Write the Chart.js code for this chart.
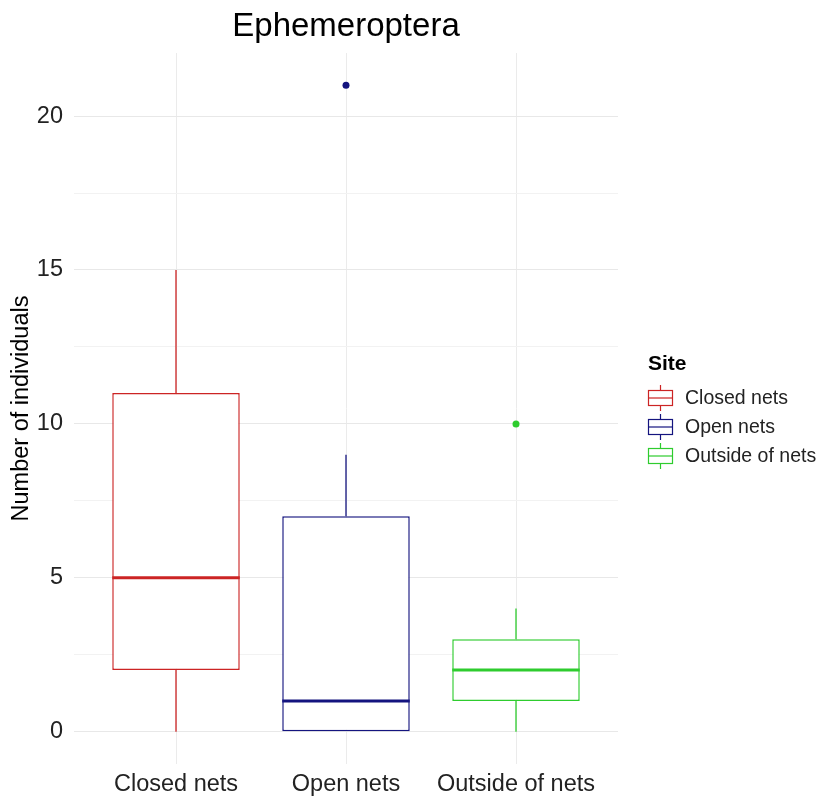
<!DOCTYPE html>
<html>
<head>
<meta charset="utf-8">
<script src="https://cdn.jsdelivr.net/npm/chart.js@4"></script>
<style>
  body { margin: 0; background: #fff; }
  #wrap { width: 819px; height: 800px; }
</style>
</head>
<body>
<div id="wrap"><canvas id="myChart" width="819" height="800"></canvas></div>
<script>
// data
const categories = ['Closed nets', 'Open nets', 'Outside of nets']
const lowWhisker = [0, 0, 0]
const q1 = [2, 0, 1]
const median = [5, 1, 2]
const q3 = [11, 7, 3]
const highWhisker = [15, 9, 4]
const outliers = [[], [21], [10]]
const colors = ['#cc2424', '#14147f', '#2ecc2e']
const yTicks = [0, 2.5, 5, 7.5, 10, 12.5, 15, 17.5, 20]

const font = 'Liberation Sans, Arial, sans-serif'

// whiskers, medians, outliers, title and legend
const boxExtras = {
  id: 'boxExtras',
  afterDatasetsDraw(chart) {
    const ctx = chart.ctx
    const x = chart.scales.x
    const y = chart.scales.y
    const half = (x.getPixelForValue(2) - x.getPixelForValue(1)) * 0.375
    ctx.save()
    categories.forEach((c, i) => {
      const cx = x.getPixelForValue(i + 1)
      ctx.strokeStyle = colors[i]
      ctx.lineWidth = 1.3
      ctx.beginPath()
      ctx.moveTo(cx, y.getPixelForValue(lowWhisker[i]))
      ctx.lineTo(cx, y.getPixelForValue(q1[i]))
      ctx.moveTo(cx, y.getPixelForValue(q3[i]))
      ctx.lineTo(cx, y.getPixelForValue(highWhisker[i]))
      ctx.stroke()
      ctx.lineWidth = 3
      ctx.beginPath()
      ctx.moveTo(cx - half, y.getPixelForValue(median[i]))
      ctx.lineTo(cx + half, y.getPixelForValue(median[i]))
      ctx.stroke()
      ctx.fillStyle = colors[i]
      outliers[i].forEach(v => {
        ctx.beginPath()
        ctx.arc(cx, y.getPixelForValue(v), 3.5, 0, Math.PI * 2)
        ctx.fill()
      })
    })
    ctx.restore()
  },
  afterDraw(chart) {
    const ctx = chart.ctx
    const area = chart.chartArea
    ctx.save()
    // title centred over the panel
    ctx.fillStyle = '#000'
    ctx.font = '33px ' + font
    ctx.textAlign = 'center'
    ctx.textBaseline = 'middle'
    ctx.fillText('Ephemeroptera', (area.left + area.right) / 2, 27)

    const lx = 648
    ctx.textAlign = 'left'
    ctx.font = 'bold 21px ' + font
    ctx.fillText('Site', lx, 364)
    ctx.font = '19.5px ' + font
    categories.forEach((c, i) => {
      const cy = 398 + i * 29
      ctx.strokeStyle = colors[i]
      ctx.lineWidth = 1.2
      ctx.beginPath()
      ctx.moveTo(lx + 12.5, cy - 13)
      ctx.lineTo(lx + 12.5, cy - 7.5)
      ctx.moveTo(lx + 12.5, cy + 7.5)
      ctx.lineTo(lx + 12.5, cy + 13)
      ctx.stroke()
      ctx.strokeRect(lx + 0.5, cy - 7.5, 24, 15)
      ctx.beginPath()
      ctx.moveTo(lx, cy)
      ctx.lineTo(lx + 25, cy)
      ctx.stroke()
      ctx.fillStyle = '#222'
      ctx.fillText(c, lx + 37, cy + 1)
    })
    ctx.restore()
  }
}

const ctx = document.getElementById('myChart')

new Chart(ctx, {
  type: 'bar',
  data: {
    datasets: categories.map((c, i) => ({
      label: c,
      data: [{ x: i + 1, y: [q1[i], q3[i]] }],
      backgroundColor: '#ffffff',
      borderColor: colors[i],
      borderWidth: 1.5,
      borderSkipped: false,
      barPercentage: 0.75,
      categoryPercentage: 1,
      grouped: false
    }))
  },
  options: {
    responsive: false,
    animation: false,
    layout: { padding: { right: 201, left: 0, top: 53, bottom: 0 } },
    plugins: {
      legend: { display: false },
      tooltip: { enabled: false },
      title: { display: false }
    },
    scales: {
      x: {
        type: 'linear',
        min: 0.4,
        max: 3.6,
        offset: false,
        afterBuildTicks: s => { s.ticks = categories.map((c, i) => ({ value: i + 1 })) },
        afterFit: s => { s.height = 36 },
        ticks: {
          callback: v => categories[v - 1],
          color: '#222',
          font: { family: font, size: 23.5 },
          padding: 6,
          maxRotation: 0,
          autoSkip: false
        },
        grid: { color: '#ebebeb', lineWidth: 1, drawTicks: false, offset: false },
        border: { display: false }
      },
      y: {
        min: -1.05,
        max: 22.05,
        afterBuildTicks: s => { s.ticks = yTicks.map(v => ({ value: v })) },
        afterFit: s => { s.width = 74 },
        ticks: {
          callback: v => (v % 5 === 0 ? v : ''),
          color: '#222',
          font: { family: font, size: 23.5 },
          padding: 11,
          autoSkip: false
        },
        grid: {
          color: c => (c.tick && c.tick.value % 5 === 0 ? '#e8e8e8' : '#f2f2f2'),
          lineWidth: 1,
          drawTicks: false
        },
        border: { display: false },
        title: {
          display: true,
          text: 'Number of individuals',
          color: '#000',
          font: { family: font, size: 23.5 },
          padding: { top: 7, bottom: 0 }
        }
      }
    }
  },
  plugins: [boxExtras]
})
</script>
</body>
</html>
